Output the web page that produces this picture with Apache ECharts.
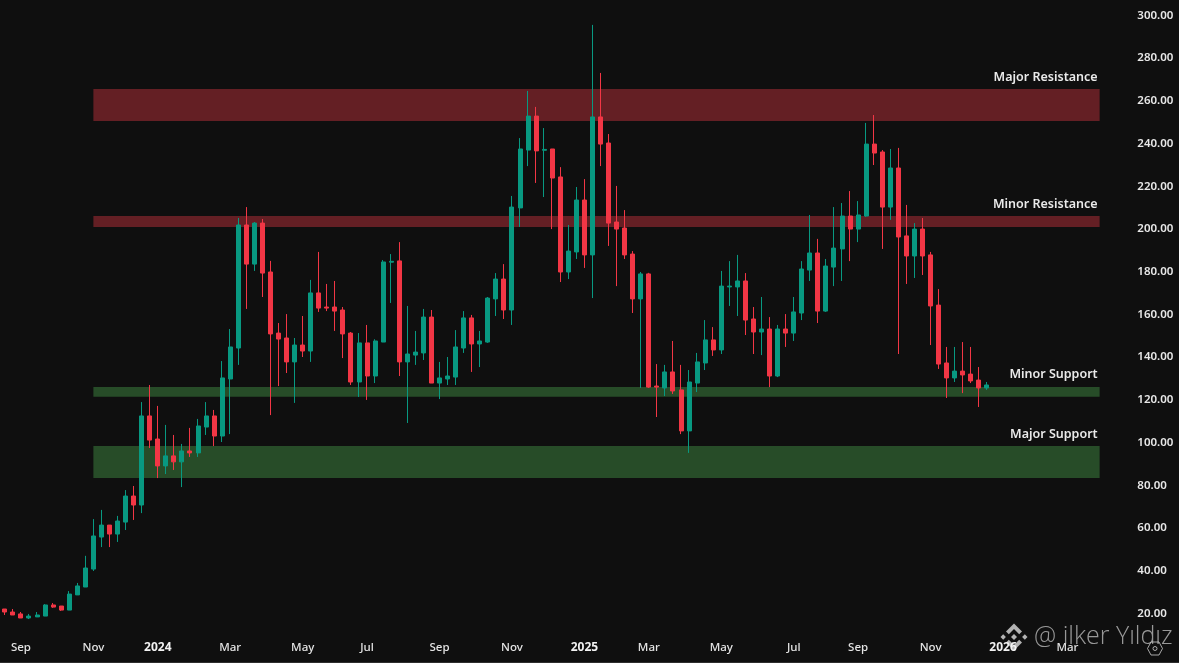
<!DOCTYPE html>
<html>
<head>
<meta charset="utf-8">
<style>html,body{margin:0;padding:0;background:#0f0f0f}#c{width:1179px;height:663px}</style>
<script src="https://cdn.jsdelivr.net/npm/echarts@6/dist/echarts.min.js"></script>
</head>
<body>
<div id="c"></div>
<script>
const opens=[22.1,20.7,19.8,17.9,18.4,18.8,24,23.5,21.6,28.7,32.4,40.8,55.8,61.4,57.2,62.8,75,70.8,112.5,101.7,89.1,93.8,91,96.1,95.2,107.3,112.5,103.1,129.8,144.3,201.9,183.6,202.8,179.9,151.3,149,137.8,145.7,142.9,170.1,163.5,163.5,162.1,151.3,128.4,146.7,131.2,147.1,184.5,185.1,137.8,141,142,158.8,127.9,129.8,130.7,144.3,158.4,146.2,147.1,167.3,176.6,162.1,209.9,237,252.9,236.9,237.5,224.4,179.9,189.3,213.6,187.9,252.5,240.3,203.3,200.5,188.3,167.3,179,126.5,125.6,133.1,124.7,105.5,127.9,137.3,148.1,143.4,172.9,172.9,175.7,157.9,151.8,153.2,131.2,153.2,151.3,160.7,180.8,188.8,161.6,182.2,190.7,206.1,200,206.1,239.8,236.1,210.3,228.6,196.8,187.4,200,187.9,164.4,137.3,130.3,133.5,132.1,129.3,125.6];
const closes=[20.7,19.3,17.9,18.8,19.3,24,23,21.6,29.1,32.9,41.3,56.3,61.4,57.2,63.3,75,70.8,112.5,101.2,89.1,93.8,91,96.1,95.2,107.8,112.5,103.1,130.3,144.8,201.9,183.6,202.8,179.4,150.9,148.5,137.8,145.7,142.9,170.1,163,163,161.6,150.9,128.4,146.7,131.2,147.6,184.6,184.9,137.8,141.5,142.4,158.8,127.9,130.3,131.2,144.8,158.4,146.2,147.6,167.7,176.6,162.1,210.3,237.5,252.9,236.6,237.3,223.9,179.9,189.7,213.6,187.9,252.5,239.8,202.8,200,187.9,167.3,179,126,126,133.1,124.2,105.5,128.4,137.8,148.1,143.4,173.3,173.3,175.7,157.4,151.8,153.2,131.2,153.2,151.3,161.2,181.3,188.8,161.6,182.7,191.1,206.1,200,206.6,239.8,235.6,210.3,228.6,196.3,187.4,200,187.4,164,136.8,130.3,133.5,131.7,128.9,125.6,127];
const lows=[19.3,19.3,17.9,17.4,18.4,18.8,22.6,21.2,21.6,28.7,32.4,39.9,51.1,51.1,53.5,59.1,63.8,67,97.5,83.4,85.3,87.2,79.2,93.3,93.3,103.6,98.4,100.3,104,136.4,162.6,180.4,168.2,112.9,126.5,132.6,118.6,140.1,137.8,161.2,161.6,152.3,139.6,127,121.4,120,127.9,147.1,165.4,131.2,109.2,136.4,138.7,127.9,120.4,127,127,142,133.1,135.4,146.7,159.3,157.9,155.1,201,229.5,221.6,215,200,175.2,176.6,186,181.8,167.7,229.5,192.1,173.3,186,160.7,125.6,125.6,112,121.8,122.8,104,95.2,123.7,134,140.6,141.5,164,159.3,150.4,141.5,141,126,130.7,144.8,147.6,157.4,175.7,156,161.2,173.3,175.7,185,193.9,205.7,230,190.7,204.3,141.5,174.3,177.1,178.5,145.7,134.5,120.9,128.4,123.2,127.9,116.7,124.7];
const highs=[22.1,22.1,20.7,19.8,20.7,24.4,24.9,23.5,30.5,34.3,47,64.2,68.5,61.4,65.7,77.8,79.7,119,127,117.2,108.3,103.6,99.4,106.9,111.1,119,115.3,138.2,153.2,205.2,210.3,203.3,204.7,185.1,156,160.2,149,159.3,176.2,189.3,174.3,175.7,163.5,151.8,151.3,155.1,148.4,185.5,188.3,193.9,164,152.3,162.6,162.1,137.8,140.1,152.7,161.6,159.8,152.3,168.2,179.4,183.6,215.5,242.6,264.7,257.2,247.3,237.5,229,201.9,219.7,223.4,295.6,273.1,244.5,220.2,208.9,189.7,179.9,179.5,136.8,136.4,147.6,136.4,134,142,157.4,154.1,180.4,185,187.9,179.4,163.5,168.2,158.8,155.1,160.2,168.2,185,206.6,195.4,186,210.3,212.2,217.8,213.1,249.7,253.4,237,237.5,238,211.3,202.8,205.2,189.3,171.9,144.8,144.8,147.1,144.8,135.4,128.4];

const tickDates=['2023-09-04','2023-11-06','2024-01-01','2024-03-04','2024-05-06','2024-07-01','2024-09-02','2024-11-04','2025-01-06','2025-03-03','2025-05-05','2025-07-07','2025-09-01','2025-11-03','2026-01-05','2026-03-02'];
const tickLabels=['Sep','Nov','2024','Mar','May','Jul','Sep','Nov','2025','Mar','May','Jul','Sep','Nov','2026','Mar'];

const zoneNames=['Major Resistance','Minor Resistance','Minor Support','Major Support'];
const zoneTops=[265.6,206.1,126.1,98.4];
const zoneBottoms=[250.6,201,121.5,83.4];
const zoneColors=['#641f24','#641f24','#274c28','#274c28'];
const zoneStart='2023-11-06';
const zoneEnd='2026-03-30';

const categories=[];
for(let i=0;i<141;i++){
  const d=new Date(Date.UTC(2023,7,21+i*7));
  categories.push(d.toISOString().slice(0,10));
}
const candles=opens.map((o,i)=>[o,closes[i],lows[i],highs[i]]);
const FONT='"Noto Sans"';

const chart=echarts.init(document.getElementById('c'),null,{renderer:'canvas'});
chart.setOption({
  animation:false,
  backgroundColor:'#0f0f0f',
  grid:{left:0.8,top:15.5,width:1135.05,height:598,containLabel:false},
  xAxis:{
    type:'category',data:categories,boundaryGap:true,
    axisLine:{show:false},axisTick:{show:false},splitLine:{show:false},
    axisLabel:{
      show:true,interval:0,margin:28,hideOverlap:false,color:'#e4e4e4',
      fontFamily:FONT,fontSize:11.5,fontWeight:500,
      formatter:(v)=>{const k=tickDates.indexOf(v);if(k<0)return '';
        const t=tickLabels[k];return /^\d+$/.test(t)?'{y|'+t+'}':t;},
      rich:{y:{fontFamily:FONT,fontSize:12,fontWeight:700,color:'#f2f2f2'}}
    }
  },
  yAxis:{
    type:'value',position:'right',min:20,max:300,interval:20,scale:false,
    axisLine:{show:false},axisTick:{show:false},splitLine:{show:false},
    axisLabel:{margin:1.5,padding:[3,0,0,0],color:'#e8e8e8',fontFamily:FONT,fontSize:11.5,fontWeight:600,formatter:(v)=>v.toFixed(2)}
  },
  series:[{
    type:'candlestick',data:candles,clip:false,barWidth:4.5,
    itemStyle:{color:'#089981',color0:'#f23645',borderColor:'#089981',borderColor0:'#f23645',borderWidth:1},
    markArea:{
      silent:true,
      data:zoneNames.map((n,i)=>[
        {name:n,xAxis:zoneStart,yAxis:zoneTops[i],itemStyle:{color:zoneColors[i]}},
        {xAxis:zoneEnd,yAxis:zoneBottoms[i]}
      ]),
      label:{show:true,position:'insideTopRight',distance:0,offset:[-2,-18.5],color:'#eaeaea',fontFamily:FONT,fontSize:12.5,fontWeight:600}
    }
  }],
  graphic:[
    {type:'rect',z:98,shape:{x:0,y:662,width:1179,height:1},style:{fill:'#2e2e2e'}},
    {type:'group',x:1014,y:637,z:100,children:[
      {type:'polygon',shape:{points:[[0,-3],[3,0],[0,3],[-3,0]]},style:{fill:'rgba(225,225,225,.78)'}},
      {type:'polygon',shape:{points:[[-10.8,-2.7],[-8.1,0],[-10.8,2.7],[-13.5,0]]},style:{fill:'rgba(225,225,225,.78)'}},
      {type:'polygon',shape:{points:[[10.8,-2.7],[13.5,0],[10.8,2.7],[8.1,0]]},style:{fill:'rgba(225,225,225,.78)'}},
      {type:'polygon',shape:{points:[[0,-13.5],[8,-5.5],[5.2,-2.7],[0,-7.9],[-5.2,-2.7],[-8,-5.5]]},style:{fill:'rgba(225,225,225,.78)'}},
      {type:'polygon',shape:{points:[[0,13.5],[8,5.5],[5.2,2.7],[0,7.9],[-5.2,2.7],[-8,5.5]]},style:{fill:'rgba(225,225,225,.78)'}}
    ]},
    {type:'text',x:1034,y:637,z:100,style:{text:'@ ilker Yıldız',fill:'rgba(205,205,205,.72)',font:'300 25px "Open Sans"',textVerticalAlign:'middle'}},
    {type:'polygon',z:99,shape:{points:[[1151,642],[1159,642],[1162.5,648.5],[1159,655],[1151,655],[1147.5,648.5]]},style:{fill:'none',stroke:'rgba(205,205,205,.8)',lineWidth:1}},
    {type:'circle',z:99,shape:{cx:1155,cy:648.5,r:2},style:{fill:'none',stroke:'rgba(205,205,205,.8)',lineWidth:1}}
  ]
});
</script>
</body>
</html>
